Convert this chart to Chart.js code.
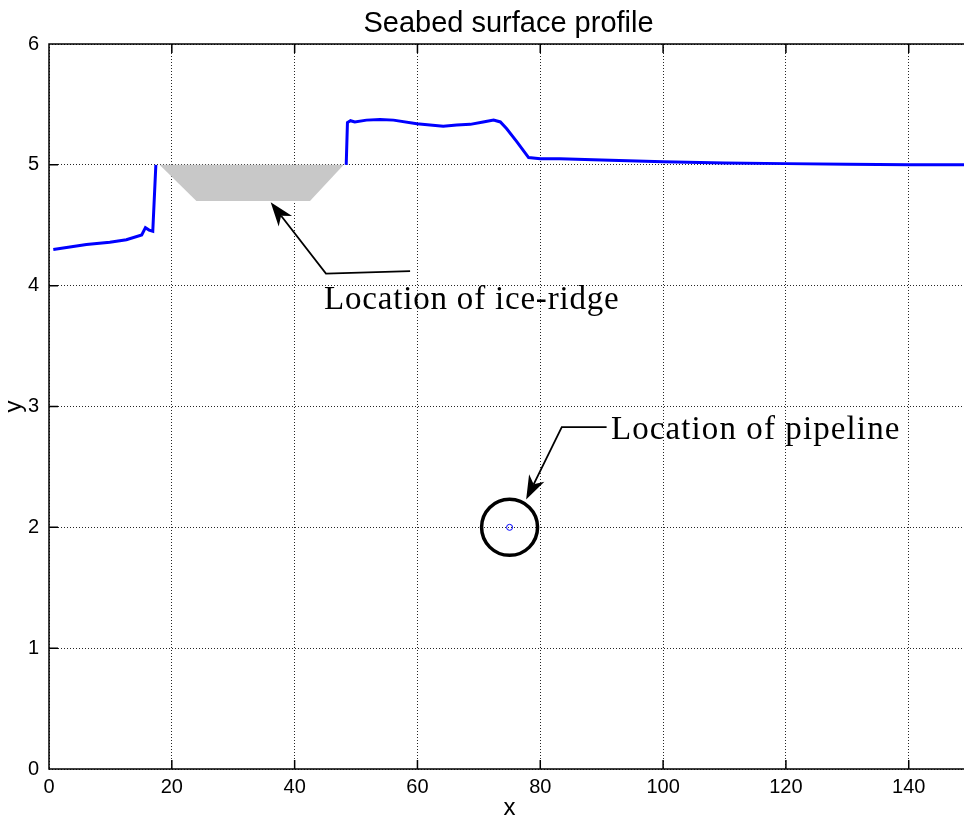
<!DOCTYPE html>
<html><head><meta charset="utf-8">
<script src="https://cdn.jsdelivr.net/npm/chart.js@4/dist/chart.umd.min.js"></script>
<style>html,body{margin:0;padding:0;background:#fff;overflow:hidden}canvas{display:block}</style>
</head><body>
<canvas id="c" width="964" height="821"></canvas>
<script>
// ---- texts ----
const chartTitle = 'Seabed surface profile';
const xLabel = 'x';
const yLabel = 'y';
const ridgeText = 'Location of ice-ridge';
const pipeText = 'Location of pipeline';

// ---- ticks ----
const xTicks = [0, 20, 40, 60, 80, 100, 120, 140];
const yTicks = [0, 1, 2, 3, 4, 5, 6];

// ---- seabed profile (null = break under the ridge) ----
const profileX = [0.7, 3.4, 6.1, 9.9, 12.6, 15.1, 15.7, 16.3, 16.9, 17.4, 30,
  48.4, 48.6, 49.1, 49.8, 51.7, 53.9, 56.1, 59.9, 64.2, 66.4, 68.6, 70.7, 72.4, 73.5,
  74.5, 76.2, 78.1, 80, 83.2, 90, 100, 110, 120, 130, 140, 149];
const profileY = [4.30, 4.32, 4.34, 4.36, 4.38, 4.42, 4.48, 4.46, 4.45, 5.00, null,
  5.00, 5.35, 5.365, 5.355, 5.37, 5.375, 5.37, 5.34, 5.32, 5.33, 5.335, 5.355, 5.37, 5.355,
  5.30, 5.19, 5.06, 5.05, 5.05, 5.04, 5.025, 5.015, 5.01, 5.005, 5.0, 5.0];

// ---- ice ridge (keel) ----
const ridgeX = [18, 24, 42.5, 48];
const ridgeY = [5, 4.7, 4.7, 5];

// ---- pipeline ----
const pipelineX = [75];
const pipelineY = [2];

// ---- annotation anchors (data units): start -> corner -> arrow tip ----
const ridgeArrowX = [58.8, 45.1, 36.1];
const ridgeArrowY = [4.12, 4.10, 4.69];
const pipeArrowX = [90.8, 83.5, 77.7];
const pipeArrowY = [2.83, 2.83, 2.23];
const textX = [44.8, 91.5];
const textY = [3.81, 2.73];

const SANS = '"Liberation Sans", Arial, Helvetica, sans-serif';
const SERIF = '"Liberation Serif", "Times New Roman", serif';

const pts = (xs, ys) => xs.map((x, i) => ({ x: x, y: ys[i] }));

const decor = {
  id: 'decor',
  afterDraw(chart) {
    const ctx = chart.ctx, ca = chart.chartArea;
    const xs = chart.scales.x, ys = chart.scales.y;
    ctx.save();
    // axes box (left, bottom, top) and inward ticks
    ctx.strokeStyle = '#000';
    ctx.lineWidth = 1.5;
    ctx.beginPath();
    ctx.moveTo(ca.right, ca.top); ctx.lineTo(ca.left, ca.top);
    ctx.lineTo(ca.left, ca.bottom); ctx.lineTo(ca.right, ca.bottom);
    xTicks.forEach(v => {
      const p = xs.getPixelForValue(v);
      ctx.moveTo(p, ca.bottom); ctx.lineTo(p, ca.bottom - 9);
      ctx.moveTo(p, ca.top); ctx.lineTo(p, ca.top + 9);
    });
    yTicks.forEach(v => {
      const p = ys.getPixelForValue(v);
      ctx.moveTo(ca.left, p); ctx.lineTo(ca.left + 9, p);
    });
    ctx.stroke();

    // title and axis labels
    ctx.fillStyle = '#000';
    ctx.font = '29px ' + SANS;
    ctx.textAlign = 'center';
    ctx.textBaseline = 'alphabetic';
    ctx.fillText(chartTitle, (ca.left + ca.right) / 2 + 2, 32);
    ctx.font = '24px ' + SANS;
    ctx.fillText(xLabel, (ca.left + ca.right) / 2 + 3, 815);
    ctx.save();
    ctx.translate(21, (ca.top + ca.bottom) / 2);
    ctx.rotate(-Math.PI / 2);
    ctx.fillText(yLabel, 0, 0);
    ctx.restore();

    // annotation arrows
    function arrow(ax, ay) {
      const p = ax.map((x, i) => [xs.getPixelForValue(x), ys.getPixelForValue(ay[i])]);
      const n = p.length;
      const tx = p[n - 1][0], ty = p[n - 1][1];
      const dx = tx - p[n - 2][0], dy = ty - p[n - 2][1];
      const L = Math.hypot(dx, dy), ux = dx / L, uy = dy / L;
      const hl = 24, hw = 8.5, notch = 17;
      ctx.lineWidth = 1.8;
      ctx.beginPath();
      ctx.moveTo(p[0][0], p[0][1]);
      for (let i = 1; i < n - 1; i++) ctx.lineTo(p[i][0], p[i][1]);
      ctx.lineTo(tx - ux * notch, ty - uy * notch);
      ctx.stroke();
      ctx.beginPath();
      ctx.moveTo(tx, ty);
      ctx.lineTo(tx - ux * hl - uy * hw, ty - uy * hl + ux * hw);
      ctx.lineTo(tx - ux * notch, ty - uy * notch);
      ctx.lineTo(tx - ux * hl + uy * hw, ty - uy * hl - ux * hw);
      ctx.closePath();
      ctx.fill();
    }
    arrow(ridgeArrowX, ridgeArrowY);
    arrow(pipeArrowX, pipeArrowY);

    ctx.font = '33px ' + SERIF;
    ctx.textAlign = 'left';
    try { ctx.letterSpacing = '0.8px'; } catch (e) {}
    ctx.fillText(ridgeText, xs.getPixelForValue(textX[0]), ys.getPixelForValue(textY[0]));
    try { ctx.letterSpacing = '1.1px'; } catch (e) {}
    ctx.fillText(pipeText, xs.getPixelForValue(textX[1]), ys.getPixelForValue(textY[1]));
    ctx.restore();
  }
};

new Chart(document.getElementById('c'), {
  type: 'scatter',
  data: {
    datasets: [
      { label: 'Ice ridge', data: pts(ridgeX, ridgeY), showLine: true, borderWidth: 0,
        borderColor: 'rgba(0,0,0,0)', pointRadius: 0, backgroundColor: '#c8c8c8', fill: { value: 5 } },
      { label: 'Seabed', data: pts(profileX, profileY), showLine: true, borderColor: '#0000ff',
        borderWidth: 3, pointRadius: 0, spanGaps: false, fill: false, tension: 0 },
      { label: 'Pipeline', data: pts(pipelineX, pipelineY), pointRadius: 3, borderColor: '#0000ff',
        borderWidth: 1, backgroundColor: 'rgba(0,0,0,0)', fill: false },
      { label: 'Pipeline marker', data: pts(pipelineX, pipelineY), pointRadius: 28, borderColor: '#000',
        borderWidth: 3.5, backgroundColor: 'rgba(0,0,0,0)', fill: false }
    ]
  },
  options: {
    responsive: false,
    animation: false,
    events: [],
    devicePixelRatio: 1,
    layout: { autoPadding: false, padding: { top: 44, left: 0, right: 0, bottom: 0 } },
    plugins: { legend: { display: false }, title: { display: false }, tooltip: { enabled: false } },
    scales: {
      x: {
        type: 'linear', min: 0, max: 149,
        afterBuildTicks: s => { s.ticks = xTicks.map(v => ({ value: v })); },
        afterFit: s => { s.height = 52; },
        ticks: { color: '#000', font: { family: SANS, size: 20 }, padding: 6, maxRotation: 0, autoSkip: false },
        grid: { color: 'rgba(0,0,0,0.85)', lineWidth: 1, drawTicks: false },
        border: { display: false, dash: [1, 2] }
      },
      y: {
        type: 'linear', min: 0, max: 6,
        afterBuildTicks: s => { s.ticks = yTicks.map(v => ({ value: v })); },
        afterFit: s => { s.width = 49; },
        ticks: { color: '#000', font: { family: SANS, size: 20 }, padding: 10, autoSkip: false },
        grid: { color: 'rgba(0,0,0,0.85)', lineWidth: 1, drawTicks: false },
        border: { display: false, dash: [1, 2] }
      }
    }
  },
  plugins: [decor]
});
</script>
</body></html>
